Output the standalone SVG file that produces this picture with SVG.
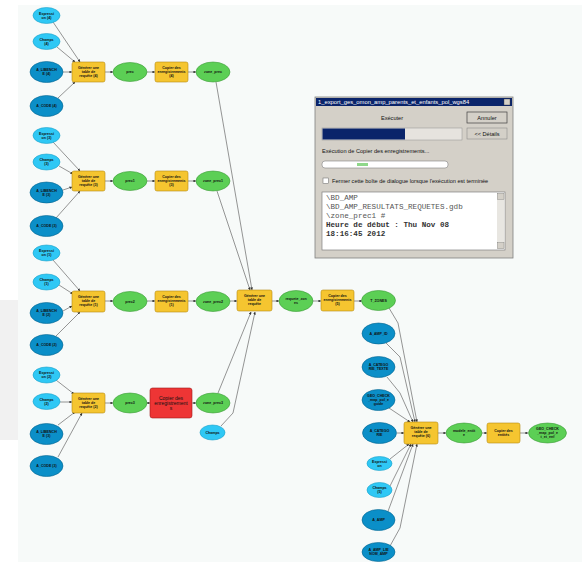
<svg xmlns="http://www.w3.org/2000/svg" width="582" height="562" viewBox="0 0 582 562">
<defs>
<marker id="ar" viewBox="0 0 6 6" refX="5.5" refY="3" markerWidth="3.5" markerHeight="3.5" orient="auto"><path d="M0,0 L6,3 L0,6 z" fill="#333"/></marker>
<style>
.e{fill:none;stroke:#7a7a7a;stroke-width:0.8;marker-end:url(#ar)}
.lc{fill:#2fc8f5;stroke:#1a9fc8;stroke-width:0.6}
.dc{fill:#0b8fc8;stroke:#06648f;stroke-width:0.6}
.gr{fill:#5ccf55;stroke:#3a9a36;stroke-width:0.6}
.tl{fill:#f5c530;stroke:#b58c10;stroke-width:0.6}
.rd{fill:#ee3535;stroke:#a01818;stroke-width:0.6}
.t{font-family:"Liberation Sans",Arial,sans-serif;font-size:3.6px;font-weight:bold;fill:#111;text-anchor:middle}
.tr{font-family:"Liberation Sans",Arial,sans-serif;font-size:5px;fill:#111;text-anchor:middle}
.d{font-family:"Liberation Sans",Arial,sans-serif;font-size:5.6px;fill:#111}
.m{font-family:"Liberation Mono","Courier New",monospace;font-size:7.6px;fill:#555}
.mb{font-family:"Liberation Mono","Courier New",monospace;font-size:7.6px;font-weight:bold;fill:#333}
</style>
</defs>
<rect width="582" height="562" fill="#ffffff"/>
<rect x="0" y="300" width="18" height="140" fill="#f1f1f1"/>
<rect x="578" y="370" width="4" height="45" fill="#f1f1f1"/>
<rect x="18" y="5" width="564" height="557" fill="#f7faf9"/>

<g id="connectors">
<path class="e" d="M53,22 L80,62"/>
<path class="e" d="M57,47 L75,62"/>
<path class="e" d="M63,72 L72,72"/>
<path class="e" d="M58,98 L75,82"/>
<path class="e" d="M105,72 L113,72"/>
<path class="e" d="M147,72 L155,72"/>
<path class="e" d="M188,72 L196,72"/>
<path class="e" d="M216,82 L252,290"/>
<path class="e" d="M53,142 L80,171"/>
<path class="e" d="M59,166 L73,174"/>
<path class="e" d="M63,190 L72,187"/>
<path class="e" d="M56,218 L80,191"/>
<path class="e" d="M105,181 L113,181"/>
<path class="e" d="M147,181 L155,181"/>
<path class="e" d="M188,181 L196,181"/>
<path class="e" d="M217,191 L250,290"/>
<path class="e" d="M53,260 L80,291"/>
<path class="e" d="M59,285 L73,294"/>
<path class="e" d="M63,311 L72,306"/>
<path class="e" d="M56,336 L80,312"/>
<path class="e" d="M105,301 L113,301"/>
<path class="e" d="M147,301 L155,301"/>
<path class="e" d="M188,301 L196,301"/>
<path class="e" d="M230,301 L237,301"/>
<path class="e" d="M272,301 L279,301"/>
<path class="e" d="M313,301 L321,301"/>
<path class="e" d="M354,301 L362,301"/>
<path class="e" d="M56,380 L74,394"/>
<path class="e" d="M60,402 L72,402"/>
<path class="e" d="M58,425 L75,412"/>
<path class="e" d="M58,457 L82,413"/>
<path class="e" d="M105,403 L113,403"/>
<path class="e" d="M147,403 L150,403"/>
<path class="e" d="M192,403 L196,403"/>
<path class="e" d="M218,393 L251,312"/>
<path class="e" d="M221,426 L233,413 L255,312"/>
<path class="e" d="M389,308 L398,323 L417,422"/>
<path class="e" d="M386,343 L400,357 L415,422"/>
<path class="e" d="M387,377 L400,393 L413,422"/>
<path class="e" d="M389,408 L410,422"/>
<path class="e" d="M397,433 L404,433"/>
<path class="e" d="M438,433 L446,433"/>
<path class="e" d="M482,433 L487,433"/>
<path class="e" d="M520,433 L528,433"/>
<path class="e" d="M390,459 L409,444"/>
<path class="e" d="M390,486 L411,444"/>
<path class="e" d="M387,514 L413,444"/>
<path class="e" d="M390,546 L400,528 L417,444"/>
</g>

<g id="r1_expr"><ellipse class="lc" cx="46.5" cy="15.5" rx="13.5" ry="8"/><text class="t" x="46.5" y="14.5">Expressi<tspan x="46.5" dy="4">on (4)</tspan></text></g>
<g id="r1_champs"><ellipse class="lc" cx="46.5" cy="41.5" rx="13.5" ry="8"/><text class="t" x="46.5" y="40.5">Champs<tspan x="46.5" dy="4">(4)</tspan></text></g>
<g id="r1_alib"><ellipse class="dc" cx="46.5" cy="72" rx="16.5" ry="10.5"/><text class="t" x="46.5" y="71">A_LIBENCH<tspan x="46.5" dy="4">E (4)</tspan></text></g>
<g id="r1_acode"><ellipse class="dc" cx="46.5" cy="106" rx="16.5" ry="10.5"/><text class="t" x="46.5" y="107.2">A_CODE (4)</text></g>
<g id="r1_tool"><rect class="tl" x="72" y="62" width="33" height="20" rx="2"/><text class="t" x="88.5" y="68.5">Générer une<tspan x="88.5" dy="4">table de</tspan><tspan x="88.5" dy="4">requête (4)</tspan></text></g>
<g id="r1_prec"><ellipse class="gr" cx="130" cy="72" rx="17" ry="9.5"/><text class="t" x="130" y="73.2">prec</text></g>
<g id="r1_copier"><rect class="tl" x="155" y="62" width="33" height="20" rx="2"/><text class="t" x="171.5" y="68.5">Copier des<tspan x="171.5" dy="4">enregistrements</tspan><tspan x="171.5" dy="4">(4)</tspan></text></g>
<g id="r1_zone"><ellipse class="gr" cx="213" cy="72" rx="17" ry="10"/><text class="t" x="213" y="73.2">zone_prec</text></g>

<g id="r2_expr"><ellipse class="lc" cx="46.5" cy="135.5" rx="13.5" ry="8"/><text class="t" x="46.5" y="134.5">Expressi<tspan x="46.5" dy="4">on (3)</tspan></text></g>
<g id="r2_champs"><ellipse class="lc" cx="46.5" cy="162" rx="13.5" ry="8"/><text class="t" x="46.5" y="161">Champs<tspan x="46.5" dy="4">(3)</tspan></text></g>
<g id="r2_alib"><ellipse class="dc" cx="46.5" cy="192.5" rx="16.5" ry="10.5"/><text class="t" x="46.5" y="191.5">A_LIBENCH<tspan x="46.5" dy="4">E (3)</tspan></text></g>
<g id="r2_acode"><ellipse class="dc" cx="46.5" cy="226" rx="16.5" ry="10.5"/><text class="t" x="46.5" y="227.2">A_CODE (3)</text></g>
<g id="r2_tool"><rect class="tl" x="72" y="171" width="33" height="20" rx="2"/><text class="t" x="88.5" y="177.5">Générer une<tspan x="88.5" dy="4">table de</tspan><tspan x="88.5" dy="4">requête (3)</tspan></text></g>
<g id="r2_prec"><ellipse class="gr" cx="130" cy="181" rx="17" ry="9.5"/><text class="t" x="130" y="182.2">prec1</text></g>
<g id="r2_copier"><rect class="tl" x="155" y="171" width="33" height="20" rx="2"/><text class="t" x="171.5" y="177.5">Copier des<tspan x="171.5" dy="4">enregistrements</tspan><tspan x="171.5" dy="4">(3)</tspan></text></g>
<g id="r2_zone"><ellipse class="gr" cx="213" cy="181" rx="17" ry="10"/><text class="t" x="213" y="182.2">zone_prec1</text></g>

<g id="r3_expr"><ellipse class="lc" cx="46.5" cy="253" rx="13.5" ry="8"/><text class="t" x="46.5" y="252">Expressi<tspan x="46.5" dy="4">on (1)</tspan></text></g>
<g id="r3_champs"><ellipse class="lc" cx="46.5" cy="282" rx="13.5" ry="8"/><text class="t" x="46.5" y="281">Champs<tspan x="46.5" dy="4">(1)</tspan></text></g>
<g id="r3_alib"><ellipse class="dc" cx="46.5" cy="313" rx="16.5" ry="10.5"/><text class="t" x="46.5" y="312">A_LIBENCH<tspan x="46.5" dy="4">E (2)</tspan></text></g>
<g id="r3_acode"><ellipse class="dc" cx="46.5" cy="345" rx="16.5" ry="10.5"/><text class="t" x="46.5" y="346.2">A_CODE (2)</text></g>
<g id="r3_tool"><rect class="tl" x="72" y="291" width="33" height="21" rx="2"/><text class="t" x="88.5" y="297.5">Générer une<tspan x="88.5" dy="4">table de</tspan><tspan x="88.5" dy="4">requête (1)</tspan></text></g>
<g id="r3_prec"><ellipse class="gr" cx="130" cy="301.5" rx="17" ry="10"/><text class="t" x="130" y="302.7">prec2</text></g>
<g id="r3_copier"><rect class="tl" x="155" y="291" width="33" height="21" rx="2"/><text class="t" x="171.5" y="297.5">Copier des<tspan x="171.5" dy="4">enregistrements</tspan><tspan x="171.5" dy="4">(1)</tspan></text></g>
<g id="r3_zone"><ellipse class="gr" cx="213" cy="301.5" rx="17" ry="10"/><text class="t" x="213" y="302.7">zone_prec2</text></g>

<g id="c_tool"><rect class="tl" x="237" y="290" width="35" height="21" rx="2"/><text class="t" x="254.5" y="296.5">Générer une<tspan x="254.5" dy="4">table de</tspan><tspan x="254.5" dy="4">requête</tspan></text></g>
<g id="c_req"><ellipse class="gr" cx="296" cy="301" rx="17" ry="10.5"/><text class="t" x="296" y="300">requete_zon<tspan x="296" dy="4">es</tspan></text></g>
<g id="c_copier"><rect class="tl" x="321" y="290" width="33" height="21" rx="2"/><text class="t" x="337.5" y="296.5">Copier des<tspan x="337.5" dy="4">enregistrements</tspan><tspan x="337.5" dy="4">(5)</tspan></text></g>
<g id="c_tzones"><ellipse class="gr" cx="378.5" cy="300.5" rx="17" ry="10"/><text class="t" x="378.5" y="301.7">T_ZONES</text></g>

<g id="r4_expr"><ellipse class="lc" cx="46.5" cy="375" rx="13.5" ry="8"/><text class="t" x="46.5" y="374">Expressi<tspan x="46.5" dy="4">on (2)</tspan></text></g>
<g id="r4_champs"><ellipse class="lc" cx="46.5" cy="401.5" rx="13.5" ry="8"/><text class="t" x="46.5" y="400.5">Champs<tspan x="46.5" dy="4">(2)</tspan></text></g>
<g id="r4_alib"><ellipse class="dc" cx="46.5" cy="434" rx="16.5" ry="10.5"/><text class="t" x="46.5" y="433">A_LIBENCH<tspan x="46.5" dy="4">E (3)</tspan></text></g>
<g id="r4_acode"><ellipse class="dc" cx="46.5" cy="466" rx="16.5" ry="10.5"/><text class="t" x="46.5" y="467.2">A_CODE (3)</text></g>
<g id="r4_tool"><rect class="tl" x="72" y="393" width="33" height="20" rx="2"/><text class="t" x="88.5" y="399.5">Générer une<tspan x="88.5" dy="4">table de</tspan><tspan x="88.5" dy="4">requête (2)</tspan></text></g>
<g id="r4_prec"><ellipse class="gr" cx="130" cy="403" rx="17" ry="10"/><text class="t" x="130" y="404.2">prec3</text></g>
<g id="r4_copier"><rect class="rd" x="150" y="388" width="42" height="30" rx="2.5"/><text class="tr" x="171" y="400">Copier des<tspan x="171" dy="5.2">enregistrement</tspan><tspan x="171" dy="5.2">s</tspan></text></g>
<g id="r4_zone"><ellipse class="gr" cx="213" cy="403" rx="17" ry="10"/><text class="t" x="213" y="404.2">zone_prec3</text></g>
<g id="r4_champs2"><ellipse class="lc" cx="212.5" cy="432.5" rx="12.5" ry="7.5"/><text class="t" x="212.5" y="433.7">Champs</text></g>

<g id="rs_aampid"><ellipse class="dc" cx="378.5" cy="333.5" rx="16.5" ry="10.5"/><text class="t" x="378.5" y="334.7">A_AMP_ID</text></g>
<g id="rs_acatt"><ellipse class="dc" cx="378.5" cy="367" rx="16.5" ry="10.5"/><text class="t" x="378.5" y="366">A_CATEGO<tspan x="378.5" dy="4">RIE_TEXTE</tspan></text></g>
<g id="rs_geo"><ellipse class="dc" cx="378.5" cy="400" rx="16.5" ry="10.5"/><text class="t" x="378.5" y="397">GEO_CHECK<tspan x="378.5" dy="4">_map_pol_e</tspan><tspan x="378.5" dy="4">guide</tspan></text></g>
<g id="rs_acat"><ellipse class="dc" cx="379.5" cy="433" rx="17" ry="10.5"/><text class="t" x="379.5" y="432">A_CATEGO<tspan x="379.5" dy="4">RIE</tspan></text></g>
<g id="rs_tool"><rect class="tl" x="404" y="422" width="34" height="22" rx="2"/><text class="t" x="421" y="429">Générer une<tspan x="421" dy="4">table de</tspan><tspan x="421" dy="4">requête (6)</tspan></text></g>
<g id="rs_modele"><ellipse class="gr" cx="464" cy="433" rx="18" ry="10"/><text class="t" x="464" y="432">modele_entit<tspan x="464" dy="4">e</tspan></text></g>
<g id="rs_copier"><rect class="tl" x="487" y="423" width="33" height="20" rx="2"/><text class="t" x="503.5" y="432">Copier des<tspan x="503.5" dy="4">entités</tspan></text></g>
<g id="rs_out"><ellipse class="gr" cx="547.5" cy="433" rx="19" ry="10"/><text class="t" x="547.5" y="429.5">GEO_CHECK<tspan x="547.5" dy="4">_map_pol_e</tspan><tspan x="547.5" dy="4">t_et_enf</tspan></text></g>
<g id="rs_expr"><ellipse class="lc" cx="379.5" cy="463.5" rx="12.5" ry="7"/><text class="t" x="379.5" y="462.5">Expressi<tspan x="379.5" dy="4">on</tspan></text></g>
<g id="rs_champs"><ellipse class="lc" cx="379.5" cy="490" rx="12.5" ry="7.5"/><text class="t" x="379.5" y="489">Champs<tspan x="379.5" dy="4">(5)</tspan></text></g>
<g id="rs_aamp"><ellipse class="dc" cx="378.5" cy="520" rx="16.5" ry="10.5"/><text class="t" x="378.5" y="521.2">A_AMP</text></g>
<g id="rs_aamplie"><ellipse class="dc" cx="378.5" cy="552" rx="16.5" ry="9.5"/><text class="t" x="378.5" y="551">A_AMP_LIE<tspan x="378.5" dy="4">NOM_AMP</tspan></text></g>

<g id="dialog">
<rect x="315" y="97" width="198" height="161" fill="#d4d0c8" stroke="#808080" stroke-width="0.8"/>
<rect x="316" y="98" width="196" height="8" fill="#0a246a"/>
<text x="318" y="104.3" font-family="'Liberation Sans',Arial,sans-serif" font-size="5.8px" fill="#ffffff">1_export_ges_omon_amp_parents_et_enfants_pol_wgs84</text>
<rect x="504" y="99" width="6" height="6" fill="#d4d0c8" stroke="#404040" stroke-width="0.4"/>
<text class="d" x="392" y="120" text-anchor="middle">Exécuter</text>
<rect x="467" y="112" width="40" height="11" fill="#d4d0c8" stroke="#404040" stroke-width="0.7"/>
<text class="d" x="487" y="119.5" text-anchor="middle">Annuler</text>
<rect x="322" y="128" width="140" height="12" fill="#e6e3de" stroke="#909090" stroke-width="0.5"/>
<rect x="322.5" y="128.5" width="82.5" height="11" fill="#0a246a"/>
<rect x="467" y="128" width="40" height="11" fill="#d4d0c8" stroke="#808080" stroke-width="0.5"/>
<text class="d" x="487" y="135.5" text-anchor="middle">&lt;&lt; Détails</text>
<text class="d" x="322" y="153">Exécution de Copier des enregistrements...</text>
<rect x="322" y="161" width="126" height="7" rx="3" fill="#ffffff" stroke="#808080" stroke-width="0.6"/>
<rect x="357" y="163" width="11" height="3" fill="#8fd88a"/>
<rect x="323" y="178" width="5.5" height="5.5" fill="#ffffff" stroke="#606060" stroke-width="0.5"/>
<text class="d" x="332" y="183">Fermer cette boîte de dialogue lorsque l'exécution est terminée</text>
<rect x="322" y="192" width="183" height="58" fill="#ffffff" stroke="#808080" stroke-width="0.7"/>
<rect x="497" y="193" width="7.5" height="56" fill="#e8e6e1"/>
<rect x="497.5" y="193.5" width="6.5" height="6" fill="#d4d0c8" stroke="#606060" stroke-width="0.3"/>
<rect x="497.5" y="242.5" width="6.5" height="6" fill="#d4d0c8" stroke="#606060" stroke-width="0.3"/>
<text class="m" x="326" y="200">\BD_AMP</text>
<text class="m" x="326" y="209">\BD_AMP_RESULTATS_REQUETES.gdb</text>
<text class="m" x="326" y="218">\zone_prec1 #</text>
<text class="mb" x="326" y="227">Heure de début : Thu Nov 08</text>
<text class="mb" x="326" y="236">18:16:45 2012</text>
</g>
</svg>
